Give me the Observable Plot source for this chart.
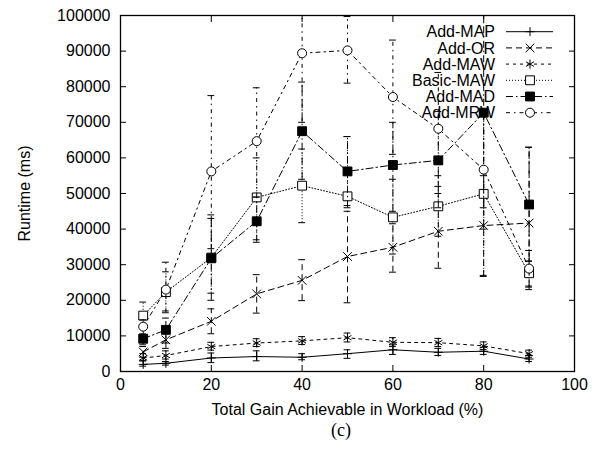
<!DOCTYPE html>
<html><head><meta charset="utf-8">
<script src="https://cdn.jsdelivr.net/npm/d3@7"></script>
<script src="https://cdn.jsdelivr.net/npm/@observablehq/plot@0.6"></script>
<style>
body{margin:0;background:#fff;font-family:"Liberation Sans",Arial,sans-serif;}
#cap{position:relative;width:600px;height:36px;}
#cap span{position:absolute;left:341px;top:2px;transform:translateX(-50%);font-family:"Liberation Serif","Times New Roman",serif;font-size:18px;line-height:20px;}
</style>
</head><body><div id="chart"></div><div id="cap"><span>(c)</span></div>
<script>
// ---- data ----
const xValues = [5, 10, 20, 30, 40, 50, 60, 70, 80, 90];
const seriesNames = ["Add-MAP", "Add-OR", "Add-MAW", "Basic-MAW", "Add-MAD", "Add-MRW"];
const xTicks = [0, 20, 40, 60, 80, 100];
const yTicks = [0, 10000, 20000, 30000, 40000, 50000, 60000, 70000, 80000, 90000, 100000];
const xLabel = "Total Gain Achievable in Workload (%)";
const yLabel = "Runtime (ms)";

const addMAP      = [2000, 2300, 3800, 4200, 4000, 5000, 6100, 5400, 5700, 3500];
const addMAPLo    = [1500, 1800, 2500, 3000, 3300, 3700, 4800, 4500, 4800, 2800];
const addMAPHi    = [3000, 2800, 5200, 5800, 5000, 6100, 7500, 6500, 6800, 4500];

const addOR       = [5500, 8900, 14100, 21800, 25600, 32300, 34900, 39400, 41000, 41700];
const addORLo     = [4000, 6500, 10600, 16400, 19900, 19300, 27900, 29000, 26700, 23700];
const addORHi     = [7000, 11500, 17600, 27200, 31400, 45000, 41500, 50000, 55000, 63000];

const addMAW      = [3800, 4500, 7000, 8000, 8600, 9500, 8200, 8100, 7200, 5000];
const addMAWLo    = [3000, 3500, 6000, 7000, 7600, 8300, 7000, 7000, 6200, 4000];
const addMAWHi    = [5000, 5800, 8200, 9200, 9800, 10800, 9500, 9300, 8300, 6000];

const basicMAW    = [15700, 22300, 32000, 48900, 52200, 49200, 43300, 46400, 49900, 27600];
const basicMAWLo  = [13000, 17000, 22000, 37000, 41800, 46600, 33000, 38000, 27000, 24000];
const basicMAWHi  = [19500, 28000, 43000, 60000, 62500, 66000, 54000, 55000, 72000, 31000];

const addMAD      = [9200, 11700, 31800, 42200, 67500, 56200, 58000, 59300, 72700, 46900];
const addMADLo    = [7500, 8000, 20000, 36300, 54000, 46000, 45000, 46000, 46000, 31000];
const addMADHi    = [10500, 15000, 44000, 49000, 81300, 66000, 70000, 73000, 100000, 63000];

const addMRW      = [12600, 23000, 56200, 64700, 89400, 90200, 77100, 68200, 56700, 28900];
const addMRWLo    = [10500, 16500, 34500, 49000, 70000, 81000, 61000, 52000, 40000, 23000];
const addMRWHi    = [14500, 30700, 77500, 79700, 100000, 99700, 93100, 84000, 73000, 34000];

const values = [addMAP, addOR, addMAW, basicMAW, addMAD, addMRW];
const lows   = [addMAPLo, addORLo, addMAWLo, basicMAWLo, addMADLo, addMRWLo];
const highs  = [addMAPHi, addORHi, addMAWHi, basicMAWHi, addMADHi, addMRWHi];

// ---- styles ----
const styles = [
  {dash: null,          symbol: "plus",     r: 3,   fill: "none"},
  {dash: "6,4",         symbol: "times",    r: 4,   fill: "none"},
  {dash: "3,4",         symbol: "asterisk", r: 4.3, fill: "none"},
  {dash: "1,2",         symbol: "square",   r: 5,   fill: "white"},
  {dash: "7,3,1.5,3",   symbol: "square",   r: 5,   fill: "black"},
  {dash: "4,4,1.5,4",   symbol: "circle",   r: 4.5, fill: "white"}
];
const d3Symbols = {plus: d3.symbolPlus, times: d3.symbolTimes, asterisk: d3.symbolAsterisk, square: d3.symbolSquare, circle: d3.symbolCircle};

const FS = 16;
const capHalf = 0.75;

const marks = [];
seriesNames.forEach((name, i) => {
  const rows = xValues.map((x, j) => ({x, y: values[i][j], lo: lows[i][j], hi: highs[i][j]}));
  const st = styles[i];
  marks.push(
    Plot.ruleX(rows, {x: "x", y1: "lo", y2: "hi", stroke: "black", strokeWidth: 1, strokeDasharray: st.dash}),
    Plot.ruleY(rows, {y: "lo", x1: d => d.x - capHalf, x2: d => d.x + capHalf, stroke: "black", strokeWidth: 1}),
    Plot.ruleY(rows, {y: "hi", x1: d => d.x - capHalf, x2: d => d.x + capHalf, stroke: "black", strokeWidth: 1}),
    Plot.line(rows, {x: "x", y: "y", stroke: "black", strokeWidth: 1, strokeDasharray: st.dash}),
    Plot.dot(rows, {x: "x", y: "y", symbol: st.symbol, r: st.r, stroke: "black", strokeWidth: 1, fill: st.fill})
  );
});

const chart = Plot.plot({
  width: 600,
  height: 418,
  marginLeft: 120,
  marginRight: 26,
  marginTop: 15,
  marginBottom: 47,
  style: {fontFamily: '"Liberation Sans", Arial, sans-serif', fontSize: FS + "px", background: "white", color: "black", overflow: "visible"},
  x: {domain: [0, 100]},
  y: {domain: [0, 100000]},
  marks: [
    ...marks,
    Plot.frame({stroke: "black", strokeWidth: 1.3}),
    Plot.axisX(xTicks, {tickSize: 0, tickPadding: 7, fontSize: FS, tickFormat: d3.format("d"), label: null}),
    Plot.axisX(xTicks, {anchor: "bottom", tickSize: -6, text: null, label: null}),
    Plot.axisX(xTicks, {anchor: "top", tickSize: -6, text: null, label: null}),
    Plot.axisY(yTicks, {tickSize: 0, tickPadding: 10, fontSize: FS, tickFormat: d3.format("d"), label: null}),
    Plot.axisY(yTicks, {anchor: "left", tickSize: -6, text: null, label: null}),
    Plot.axisY(yTicks, {anchor: "right", tickSize: -6, text: null, label: null}),
    Plot.text([xLabel], {frameAnchor: "bottom", dy: 38, fontSize: FS, fill: "black", lineAnchor: "middle", textAnchor: "middle"}),
    Plot.text([yLabel], {frameAnchor: "left", dx: -96, rotate: -90, fontSize: FS, fill: "black", lineAnchor: "middle", textAnchor: "middle"})
  ]
});
document.getElementById("chart").appendChild(chart);

// ---- legend (inside plot, top-right) ----
const svg = d3.select(chart.tagName.toLowerCase() === "svg" ? chart : chart.querySelector("svg"));
const lg = svg.append("g").attr("font-family", '"Liberation Sans", Arial, sans-serif').attr("font-size", FS);
seriesNames.forEach((name, i) => {
  const yy = 31.7 + 16.2 * i;
  const st = styles[i];
  lg.append("text").attr("x", 495).attr("y", yy).attr("text-anchor", "end").attr("dy", "0.35em").attr("fill", "black").text(name);
  lg.append("line").attr("x1", 506).attr("x2", 553).attr("y1", yy).attr("y2", yy)
    .attr("stroke", "black").attr("stroke-width", 1).attr("stroke-dasharray", st.dash);
  lg.append("path").attr("transform", `translate(530,${yy})`)
    .attr("d", d3.symbol(d3Symbols[st.symbol], st.r * st.r * Math.PI)())
    .attr("stroke", "black").attr("stroke-width", 1).attr("fill", st.fill);
});
</script></body></html>
